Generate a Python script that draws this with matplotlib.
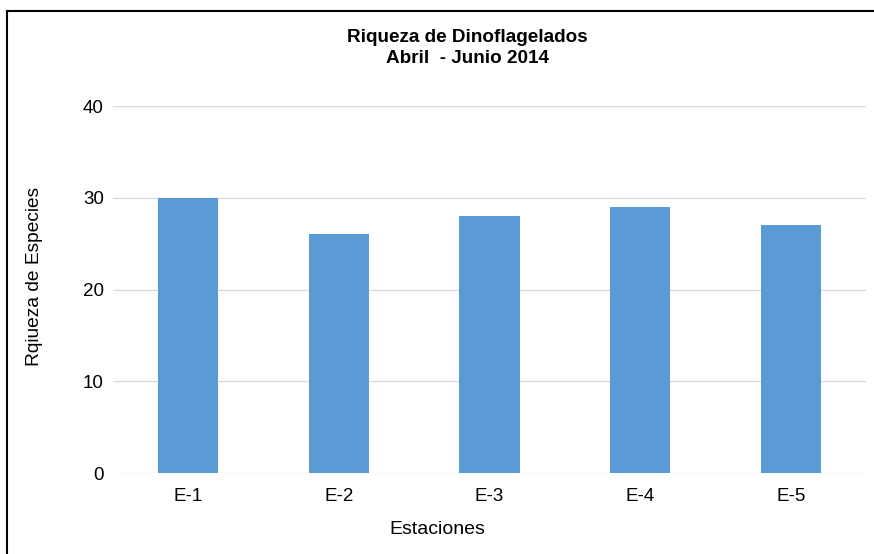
import matplotlib
matplotlib.use("Agg")
import matplotlib.pyplot as plt
from matplotlib.lines import Line2D

plt.rcParams['font.family'] = ['Liberation Sans', 'DejaVu Sans']

estaciones = ["E-1", "E-2", "E-3", "E-4", "E-5"]
riqueza = [30, 26, 28, 29, 27]
yticks = [0, 10, 20, 30, 40]

fig = plt.figure(figsize=(8.74, 5.54), dpi=100)
ax = fig.add_axes([113/874, 1 - 473/554, (866 - 113)/874, (473 - 106)/554])

x = list(range(len(estaciones)))
ax.bar(x, riqueza, width=0.4, color="#5B9BD5", zorder=3)
ax.set_xlim(-0.5, len(estaciones) - 0.5)
ax.set_ylim(0, 40)
ax.set_yticks(yticks)
ax.set_xticks(x)
ax.set_xticklabels(estaciones)
ax.tick_params(axis='both', length=0, labelsize=13.5, colors='#000000')
ax.tick_params(axis='y', pad=6.5)
ax.tick_params(axis='x', pad=11)
for s in ax.spines.values():
    s.set_visible(False)
ax.yaxis.grid(True, color="#d9d9d9", linewidth=0.9, zorder=0)
ax.set_axisbelow(True)

fig.text(437/874, 1 - 530/554, "Estaciones", ha='center', va='center', fontsize=14)
fig.text(35/874, 1 - 276/554, "Rqiueza de Especies", ha='center', va='center',
         rotation=90, fontsize=13.8)

fig.text(467/874, 1 - 48/554, "Riqueza de Dinoflagelados\nAbril  - Junio 2014",
         ha='center', va='center', fontsize=13.6, fontweight='bold', linespacing=1.32)

# outer border (top and left)
fig.add_artist(Line2D([7/874, 1], [1 - 11/554, 1 - 11/554], transform=fig.transFigure, color='black', linewidth=1.5))
fig.add_artist(Line2D([7/874, 7/874], [0, 1 - 11/554], transform=fig.transFigure, color='black', linewidth=1.5))

fig.savefig("out.png", dpi=100)
